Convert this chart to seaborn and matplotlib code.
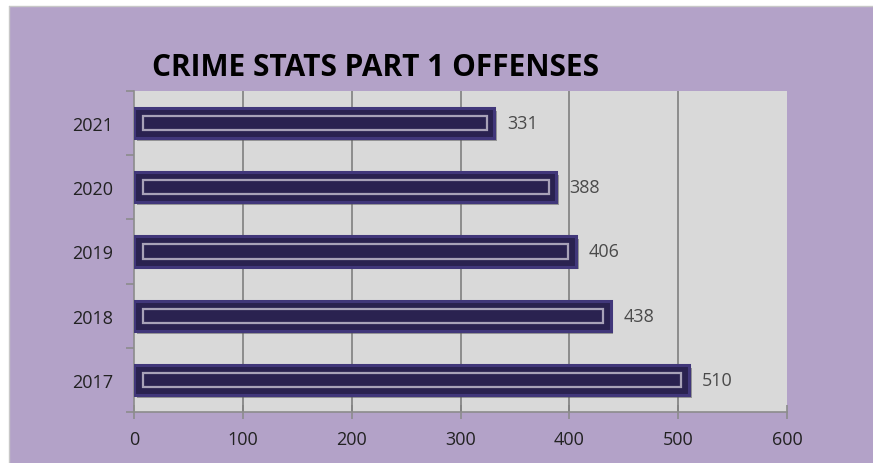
import matplotlib
matplotlib.use("Agg")
import matplotlib.pyplot as plt
import matplotlib.patheffects as pe
from matplotlib.patches import Rectangle
from matplotlib.lines import Line2D
import seaborn as sns
import pandas as pd

years = ["2021", "2020", "2019", "2018", "2017"]
offenses = [331, 388, 406, 438, 510]
x_ticks = [0, 100, 200, 300, 400, 500, 600]
title = "CRIME STATS PART 1 OFFENSES"

df = pd.DataFrame({"year": years, "offenses": offenses})

sns.set_theme(style="white")
plt.rcParams["font.family"] = ["Open Sans", "DejaVu Sans"]

fig = plt.figure(figsize=(8.73, 4.64), dpi=100, facecolor="white")
bg = Rectangle((9 / 873, 0), 1 - 9 / 873, 1 - 7 / 464, transform=fig.transFigure,
               facecolor="#B3A2C8", edgecolor="none", zorder=-10)
fig.patches.append(bg)
fig.lines.append(Line2D([9 / 873, 1], [1 - 7 / 464, 1 - 7 / 464], transform=fig.transFigure,
                        color="#C8C8C8", linewidth=1))
fig.lines.append(Line2D([9 / 873, 9 / 873], [0, 1 - 7 / 464], transform=fig.transFigure,
                        color="#C8C8C8", linewidth=1))

ax = fig.add_axes([134 / 873, 1 - 413 / 464, (787 - 134) / 873, (413 - 92) / 464])
ax.set_facecolor("#D9D9D9")

sns.barplot(data=df, x="offenses", y="year", orient="h", ax=ax, width=0.47,
            color="#2A2250", edgecolor="#41377A", linewidth=2.2, saturation=1, zorder=3)
for p in ax.patches:
    p.set_path_effects([pe.SimplePatchShadow(offset=(2, -2), shadow_rgbFace="#555555", alpha=0.5),
                        pe.Normal()])

n_main = len(ax.patches)
sns.barplot(data=df, x="offenses", y="year", orient="h", ax=ax, width=0.22,
            fill=False, edgecolor="#A8A2B8", linewidth=1.6, saturation=1, zorder=4)
for p in ax.patches[n_main:]:
    p.set_x(p.get_x() + 8)
    p.set_width(p.get_width() - 15)

for v, yl in zip(offenses, range(len(years))):
    ax.text(v + 12, yl, str(v), va="center", ha="left", fontsize=13, color="#4A4A4A", zorder=5)

ax.set_xlim(0, 600)
ax.set_ylim(len(years) - 0.5, -0.5)
ax.set_xticks(x_ticks)
ax.set_xticklabels([str(t) for t in x_ticks], fontsize=13, color="#222222")
ax.set_yticks(range(len(years)))
ax.set_yticklabels(years, fontsize=13, color="#222222")
ax.set_xlabel("")
ax.set_ylabel("")

for x in x_ticks[1:-1]:
    ax.axvline(x, color="#808080", linewidth=1.2, zorder=1)

for s in ["top", "right"]:
    ax.spines[s].set_visible(False)
for s in ["left", "bottom"]:
    ax.spines[s].set_visible(True)
    ax.spines[s].set_color("#8C8C8C")
    ax.spines[s].set_linewidth(1.2)

ax.tick_params(axis="x", direction="inout", length=10, width=1.2, color="#8C8C8C", pad=8, bottom=True)
ax.tick_params(axis="y", length=0, pad=15)
ax.set_yticks([i - 0.5 for i in range(len(years) + 1)], minor=True)
ax.tick_params(axis="y", which="minor", direction="out", length=6, width=1.2, color="#8C8C8C", left=True)

fig.text(152 / 873, 1 - 68 / 464, title, fontsize=21.5, fontweight="bold", color="black",
         va="center", ha="left", family=["Open Sans", "DejaVu Sans"])

fig.savefig("out.png", dpi=100, facecolor=fig.get_facecolor())
